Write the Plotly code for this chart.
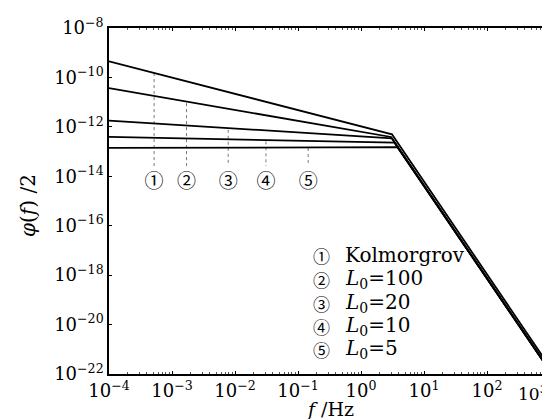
import plotly.graph_objects as go

# ---- data ----
curve_names = ["Kolmorgrov", "L0=100", "L0=20", "L0=10", "L0=5"]
kolmogorov_f = [1e-4, 3.1, 1e3]
kolmogorov_v = [4.5e-10, 5.0e-13, 1.9e-22]
l100_f = [1e-4, 3.0, 1e3]
l100_v = [3.7e-11, 3.9e-13, 1.4e-22]
l20_f = [1e-4, 3.1, 1e3]
l20_v = [1.8e-12, 3.4e-13, 1.3e-22]
l10_f = [1e-4, 3.4, 1e3]
l10_v = [3.9e-13, 2.3e-13, 1.3e-22]
l5_f = [1e-4, 3.8, 1e3]
l5_v = [1.4e-13, 1.5e-13, 1.3e-22]

mark_labels = ["①", "②", "③", "④", "⑤"]
mark_f = [5.2e-4, 1.7e-3, 7.8e-3, 3.1e-2, 1.45e-1]
mark_top = [1.5e-10, 9.1e-12, 7.6e-13, 2.6e-13, 1.4e-13]
mark_bottom = 2.6e-14
mark_label_y = 5.0e-15

legend_marks = ["①", "②", "③", "④", "⑤"]
legend_texts = ["Kolmorgrov", "<i>L</i><sub>0</sub>=100", "<i>L</i><sub>0</sub>=20",
                "<i>L</i><sub>0</sub>=10", "<i>L</i><sub>0</sub>=5"]

x_tickvals = [1e-4, 1e-3, 1e-2, 1e-1, 1e0, 1e1, 1e2, 1e3]
x_ticktext = ["10<sup>−4</sup>", "10<sup>−3</sup>", "10<sup>−2</sup>", "10<sup>−1</sup>",
              "10<sup>0</sup>", "10<sup>1</sup>", "10<sup>2</sup>", "10<sup>3</sup>"]
y_tickvals = [1e-8, 1e-10, 1e-12, 1e-14, 1e-16, 1e-18, 1e-20, 1e-22]
y_ticktext = ["10<sup>−8</sup>", "10<sup>−10</sup>", "10<sup>−12</sup>", "10<sup>−14</sup>",
              "10<sup>−16</sup>", "10<sup>−18</sup>", "10<sup>−20</sup>", "10<sup>−22</sup>"]

FONT = "DejaVu Serif"
CIRC_FONT = "Noto Sans CJK JP"

fig = go.Figure()

# dotted marker lines
for f, top in zip(mark_f, mark_top):
    fig.add_trace(go.Scatter(x=[f, f], y=[top, mark_bottom], mode="lines",
                             line=dict(color="#777777", width=1, dash="dot"),
                             showlegend=False, hoverinfo="skip"))

series = [(kolmogorov_f, kolmogorov_v), (l100_f, l100_v), (l20_f, l20_v),
          (l10_f, l10_v), (l5_f, l5_v)]
for (fx, vy), name in zip(series, curve_names):
    fig.add_trace(go.Scatter(x=fx, y=vy, mode="lines", name=name,
                             line=dict(color="black", width=1.8),
                             showlegend=False))

fig.add_trace(go.Scatter(x=mark_f, y=[mark_label_y] * len(mark_f), mode="text",
                         text=mark_labels, textfont=dict(family=CIRC_FONT, size=19, color="black"),
                         showlegend=False, hoverinfo="skip"))

annotations = []
legend_y_px = [247, 271, 295, 318, 341]
for mk, txt, ypx in zip(legend_marks, legend_texts, legend_y_px):
    yp = 1 - (ypx - 20) / 346
    annotations.append(dict(xref="paper", yref="paper",
                            x=(313 - 101) / 441, y=yp,
                            xanchor="center", yanchor="middle", text=mk, showarrow=False,
                            borderpad=0,
                            font=dict(family=CIRC_FONT, size=17, color="black")))
    annotations.append(dict(xref="paper", yref="paper",
                            x=(336 - 101) / 441, y=yp,
                            xanchor="left", yanchor="middle", text=txt, showarrow=False,
                            borderpad=0,
                            font=dict(family=FONT, size=20, color="black")))
annotations.append(dict(xref="paper", yref="paper", x=(20 - 101) / 441, y=1 - (198 - 20) / 346,
                        text="<i>φ</i>(<i>f</i>) /2", textangle=-90, showarrow=False,
                        xanchor="center", yanchor="middle",
                        font=dict(family=FONT, size=20, color="black")))
annotations.append(dict(xref="paper", yref="paper", x=(322 - 101) / 441, y=-(401 - 366) / 346,
                        text="<i>f</i> /Hz", showarrow=False, borderpad=0,
                        xanchor="center", yanchor="middle",
                        font=dict(family=FONT, size=19, color="black")))
# last x tick label, kept inside the page edge
annotations.append(dict(xref="paper", yref="paper", x=(540 - 101) / 441, y=-(385 - 366) / 346,
                        text=x_ticktext[-1], showarrow=False, borderpad=0,
                        xanchor="right", yanchor="middle",
                        font=dict(family=FONT, size=17, color="black")))
x_ticktext_axis = x_ticktext[:-1] + [""]

fig.update_layout(
    width=550, height=419,
    margin=dict(l=101, r=8, t=20, b=53, autoexpand=False),
    paper_bgcolor="white", plot_bgcolor="white",
    annotations=annotations,
    font=dict(family=FONT, size=18, color="black"),
)
fig.update_xaxes(type="log", range=[-4, 3], tickvals=x_tickvals, ticktext=x_ticktext_axis,
                 showgrid=False, zeroline=False, showline=True, linecolor="black", linewidth=1.5,
                 mirror="ticks", ticks="inside", ticklen=3, tickcolor="black",
                 ticklabeloverflow="allow",
                 minor=dict(ticks="inside", ticklen=2, tickcolor="#555555", dtick="D1"),
                 tickfont=dict(family=FONT, size=18))
fig.update_yaxes(type="log", range=[-22, -8], tickvals=y_tickvals, ticktext=y_ticktext,
                 showgrid=False, zeroline=False, showline=True, linecolor="black", linewidth=1.5,
                 mirror="ticks", ticks="inside", ticklen=3, tickcolor="black",
                 ticklabeloverflow="allow",
                 tickfont=dict(family=FONT, size=18))

fig.write_html("out.html")
